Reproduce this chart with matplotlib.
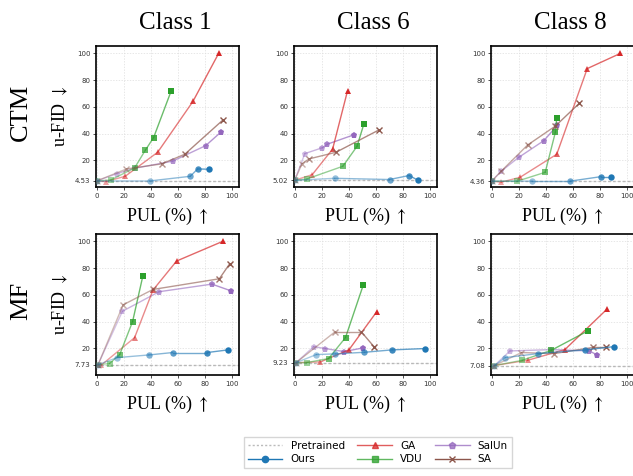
import numpy as np
import matplotlib
matplotlib.use("Agg")
import matplotlib.pyplot as plt
from matplotlib.lines import Line2D

plt.rcParams["mathtext.fontset"] = "stix"

W, H = 633, 476
fig = plt.figure(figsize=(W / 100, H / 100), dpi=100)

classes = ["Class 1", "Class 6", "Class 8"]
models = ["CTM", "MF"]
methods = ["Ours", "GA", "VDU", "SalUn", "SA"]
colors = {"Ours": "#1f77b4", "GA": "#d62728", "VDU": "#2ca02c",
          "SalUn": "#9467bd", "SA": "#8c564b"}
markers = {"Ours": "o", "GA": "^", "VDU": "s", "SalUn": "p", "SA": "x"}

baselines = {("CTM", 0): 4.53, ("CTM", 1): 5.02, ("CTM", 2): 4.36,
             ("MF", 0): 7.73, ("MF", 1): 9.23, ("MF", 2): 7.08}

# CTM, Class 1
ctm1_ours_x = [0, 39, 69, 74.5, 83]
ctm1_ours_y = [4.53, 4.5, 8, 13.5, 13.3]
ctm1_ga_x = [0, 7, 21, 45, 71, 90]
ctm1_ga_y = [4.53, 4.1, 8, 26, 64, 100]
ctm1_vdu_x = [0, 10.5, 28, 36, 42, 55]
ctm1_vdu_y = [4.53, 5.3, 14.3, 27.7, 37, 72]
ctm1_salun_x = [0, 15, 28, 56, 80.5, 92]
ctm1_salun_y = [4.53, 10, 14, 19.3, 31, 41.4]
ctm1_sa_x = [0, 22, 48, 65, 93]
ctm1_sa_y = [4.53, 13.5, 17.3, 24.5, 50]

# CTM, Class 6
ctm6_ours_x = [0, 29.5, 70, 84.5, 91]
ctm6_ours_y = [5.02, 6.5, 5.6, 8.6, 5.0]
ctm6_ga_x = [0, 13, 28, 39]
ctm6_ga_y = [5.02, 9.3, 28.4, 72]
ctm6_vdu_x = [0, 9, 35.5, 46, 51]
ctm6_vdu_y = [5.02, 6, 15.5, 30.4, 47]
ctm6_salun_x = [0, 7.5, 20.5, 24, 43.5]
ctm6_salun_y = [5.02, 25, 29.4, 32, 39]
ctm6_sa_x = [0, 5.5, 10.5, 30.5, 62]
ctm6_sa_y = [5.02, 17.5, 21, 26, 42.6]

# CTM, Class 8
ctm8_ours_x = [0, 30, 58, 81, 88]
ctm8_ours_y = [4.36, 4.4, 4.4, 7.8, 7.8]
ctm8_ga_x = [0, 7, 21, 48, 70.5, 95]
ctm8_ga_y = [4.36, 3.6, 7.3, 24.5, 88.6, 100]
ctm8_vdu_x = [0, 19, 39.5, 47, 48]
ctm8_vdu_y = [4.36, 4.4, 11, 41, 52]
ctm8_salun_x = [0, 7, 20, 38.5, 48.5]
ctm8_salun_y = [4.36, 11.8, 22.2, 34.7, 46.2]
ctm8_sa_x = [0, 7, 26.5, 47, 64.5]
ctm8_sa_y = [4.36, 11.8, 31.4, 45.6, 62.5]

# MF, Class 1
mf1_ours_x = [1, 15, 38.5, 56, 81.5, 97]
mf1_ours_y = [7.73, 13, 15, 16.8, 16.8, 18.8]
mf1_ga_x = [1, 3.5, 28, 41.5, 59, 93]
mf1_ga_y = [7.73, 7.5, 28, 63.5, 85.3, 100]
mf1_vdu_x = [1, 9.5, 17, 26.5, 34]
mf1_vdu_y = [7.73, 8.6, 15.3, 40, 73.8]
mf1_salun_x = [1, 19, 46, 85, 99]
mf1_salun_y = [7.73, 47.7, 62.3, 68, 63]
mf1_sa_x = [1, 19.5, 41.5, 90.5, 98]
mf1_sa_y = [7.73, 52.5, 64, 72, 83]

# MF, Class 6
mf6_ours_x = [1, 16, 30, 51.5, 72, 96.5]
mf6_ours_y = [9.23, 15.3, 15.8, 17, 18.8, 19.8]
mf6_ga_x = [1, 19, 40, 60.5]
mf6_ga_y = [9.23, 9.8, 18.8, 47.3]
mf6_vdu_x = [1, 9, 25, 37.5, 50.5]
mf6_vdu_y = [9.23, 9.3, 12.3, 28, 67]
mf6_salun_x = [1, 14, 22.5, 36.5, 50.5]
mf6_salun_y = [9.23, 21.2, 19.8, 17.5, 20.3]
mf6_sa_x = [1, 30, 49, 58.5]
mf6_sa_y = [9.23, 32.5, 32.5, 21.2]

# MF, Class 8
mf8_ours_x = [2, 10, 34, 69, 90]
mf8_ours_y = [7.08, 13, 16, 18.8, 21.2]
mf8_ga_x = [2, 26.5, 54, 85]
mf8_ga_y = [7.08, 11, 19, 49.2]
mf8_vdu_x = [2, 22.5, 44, 71]
mf8_vdu_y = [7.08, 11, 18.5, 33]
mf8_salun_x = [2, 13.5, 44, 72, 77.5]
mf8_salun_y = [7.08, 18, 19, 18, 15.2]
mf8_sa_x = [2, 22, 46, 75, 84.5]
mf8_sa_y = [7.08, 16.8, 16, 20.7, 20.7]

data = {
    ("CTM", 0): {"Ours": (ctm1_ours_x, ctm1_ours_y), "GA": (ctm1_ga_x, ctm1_ga_y),
                 "VDU": (ctm1_vdu_x, ctm1_vdu_y), "SalUn": (ctm1_salun_x, ctm1_salun_y),
                 "SA": (ctm1_sa_x, ctm1_sa_y)},
    ("CTM", 1): {"Ours": (ctm6_ours_x, ctm6_ours_y), "GA": (ctm6_ga_x, ctm6_ga_y),
                 "VDU": (ctm6_vdu_x, ctm6_vdu_y), "SalUn": (ctm6_salun_x, ctm6_salun_y),
                 "SA": (ctm6_sa_x, ctm6_sa_y)},
    ("CTM", 2): {"Ours": (ctm8_ours_x, ctm8_ours_y), "GA": (ctm8_ga_x, ctm8_ga_y),
                 "VDU": (ctm8_vdu_x, ctm8_vdu_y), "SalUn": (ctm8_salun_x, ctm8_salun_y),
                 "SA": (ctm8_sa_x, ctm8_sa_y)},
    ("MF", 0): {"Ours": (mf1_ours_x, mf1_ours_y), "GA": (mf1_ga_x, mf1_ga_y),
                "VDU": (mf1_vdu_x, mf1_vdu_y), "SalUn": (mf1_salun_x, mf1_salun_y),
                "SA": (mf1_sa_x, mf1_sa_y)},
    ("MF", 1): {"Ours": (mf6_ours_x, mf6_ours_y), "GA": (mf6_ga_x, mf6_ga_y),
                "VDU": (mf6_vdu_x, mf6_vdu_y), "SalUn": (mf6_salun_x, mf6_salun_y),
                "SA": (mf6_sa_x, mf6_sa_y)},
    ("MF", 2): {"Ours": (mf8_ours_x, mf8_ours_y), "GA": (mf8_ga_x, mf8_ga_y),
                "VDU": (mf8_vdu_x, mf8_vdu_y), "SalUn": (mf8_salun_x, mf8_salun_y),
                "SA": (mf8_sa_x, mf8_sa_y)},
}

serif = ["Liberation Serif", "DejaVu Serif"]

col_left = [96, 294, 491]
row_top = [46, 234]
aw, ah = 143, 141

z = {"Ours": 6, "GA": 3, "VDU": 4, "SalUn": 2, "SA": 5}

for r, model in enumerate(models):
    for c in range(3):
        ax = fig.add_axes([col_left[c] / W, 1 - (row_top[r] + ah) / H, aw / W, ah / H])
        base = baselines[(model, c)]
        ax.axhline(base, color="#aaaaaa", ls=(0, (2, 1.5)), lw=1.0, alpha=0.8, zorder=1)
        for m in methods:
            xs, ys = data[(model, c)][m]
            n = len(xs)
            a_pts = np.linspace(0.3, 1.0, n)
            for i in range(n - 1):
                ax.plot(xs[i:i + 2], ys[i:i + 2], color=colors[m], lw=1.0,
                        alpha=0.3 + 0.4 * (i + 1) / (n - 1), zorder=z[m],
                        solid_capstyle="round")
            for i in range(n):
                if markers[m] == "x":
                    ax.plot(xs[i], ys[i], marker="x", color=colors[m], ms=4.5,
                            mew=1.0, alpha=a_pts[i], zorder=z[m] + 0.5, ls="none")
                else:
                    ax.plot(xs[i], ys[i], marker=markers[m], color=colors[m],
                            ms=5 if markers[m] != "o" else 4.6, mew=0,
                            alpha=a_pts[i], zorder=z[m] + 0.5, ls="none")
        ax.set_xlim(-0.5, 105)
        ax.set_ylim(0, 105.5)
        ax.set_xticks([0, 20, 40, 60, 80, 100])
        ax.set_yticks([base, 20, 40, 60, 80, 100])
        ax.set_yticklabels([f"{base:.2f}", "20", "40", "60", "80", "100"])
        ax.tick_params(labelsize=5, colors="#333333", length=2, width=0.6, pad=2)
        ax.grid(True, color="#dddddd", ls=(0, (2, 2)), lw=0.5)
        ax.set_axisbelow(True)
        for s in ax.spines.values():
            s.set_linewidth(1.2)
            s.set_color("black")
        ax.set_xlabel(r"PUL (%) $\uparrow$", fontfamily=serif, fontsize=13, labelpad=5)
        if c == 0:
            ax.set_ylabel(r"u-FID $\downarrow$", fontfamily=serif, fontsize=13)
            ax.yaxis.set_label_coords(-0.18, 0.5)

for c, t in enumerate(classes):
    fig.text((col_left[c] + aw / 2 + 8) / W, 1 - 23 / H, t, ha="center", va="center",
             fontfamily=serif, fontsize=18)
for r, model in enumerate(models):
    fig.text(21 / W, 1 - (row_top[r] + ah / 2 - 4) / H, model, rotation=90,
             ha="center", va="center", fontfamily=serif, fontsize=19)

handles = [
    Line2D([], [], color="#bbbbbb", ls=(0, (1.5, 1.5)), lw=1.0, label="Pretrained"),
    Line2D([], [], color=colors["Ours"], marker="o", ms=4.5, lw=1.0, label="Ours"),
    Line2D([], [], color=colors["GA"], marker="^", ms=4.5, lw=1.0, alpha=0.75, label="GA"),
    Line2D([], [], color=colors["VDU"], marker="s", ms=4.5, lw=1.0, alpha=0.75, label="VDU"),
    Line2D([], [], color=colors["SalUn"], marker="p", ms=4.5, lw=1.0, alpha=0.75, label="SalUn"),
    Line2D([], [], color=colors["SA"], marker="x", ms=4.5, lw=1.0, label="SA"),
]
fig.legend(handles=handles, ncol=3, loc="upper center",
           bbox_to_anchor=(378 / W, 1 - 432 / H), fontsize=7.5, frameon=True,
           handlelength=3.3, handletextpad=0.8, columnspacing=1.2, borderpad=0.35,
           labelspacing=0.35, fancybox=False, edgecolor="#cccccc")

fig.savefig("out.png", dpi=100)
